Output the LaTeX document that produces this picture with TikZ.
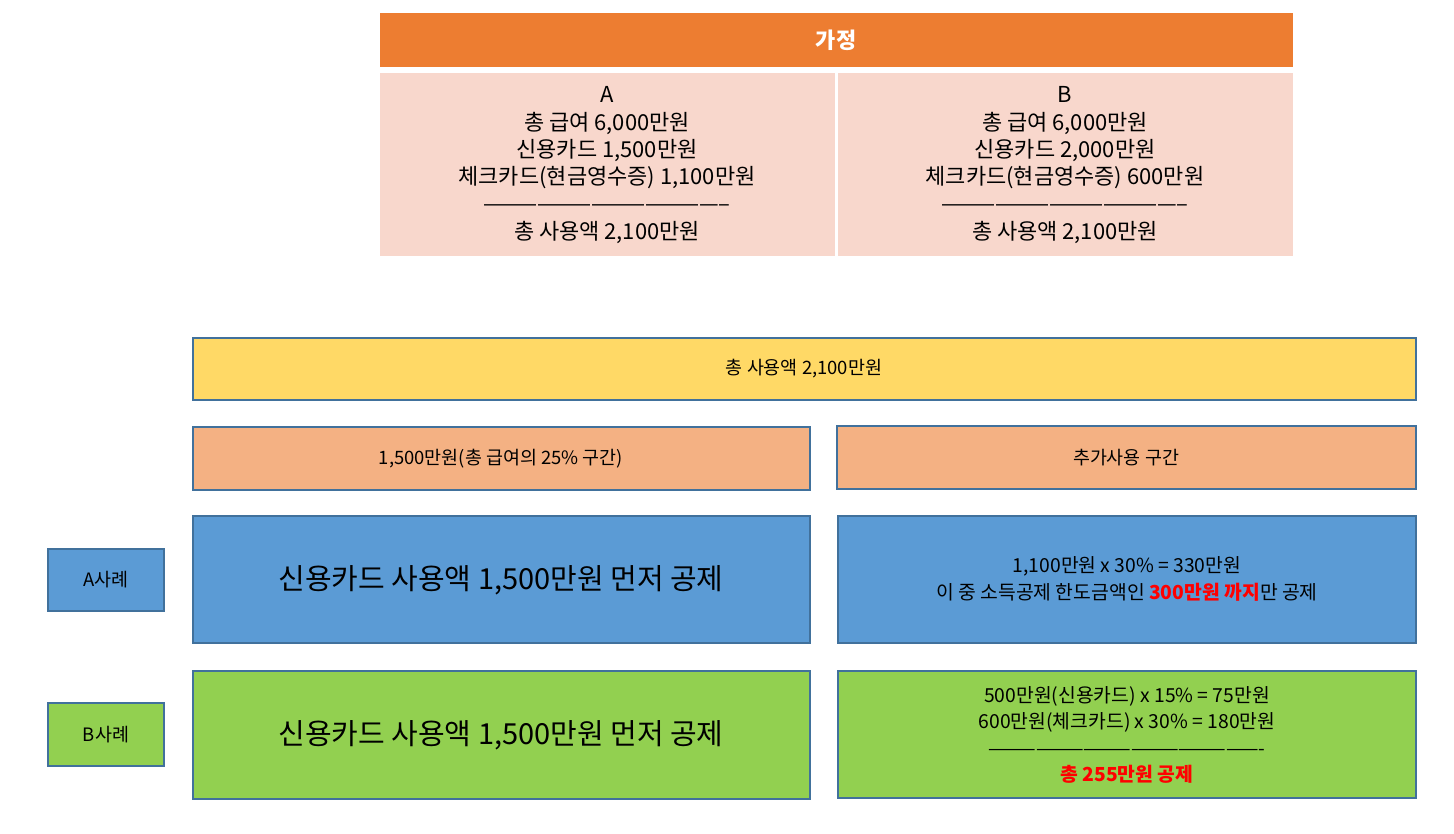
\documentclass[tikz,border=0pt]{standalone}
\usepackage{fontspec}
\setmainfont{Noto Sans CJK KR}
\begin{document}
\begin{tikzpicture}[x=0.02cm,y=-0.02cm,
 bx/.style={draw=none,inner sep=0},
 ob/.style={draw=black!30!blue!40!gray,line width=0.8pt,color=black,fill=#1},
 t/.style={align=center,font=\fontsize{12.5}{15.5}\selectfont}]
\useasboundingbox (0,0) rectangle (1454,833);
\definecolor{hdr}{HTML}{ED7D31}\definecolor{pnk}{HTML}{F8D7CC}
\definecolor{yel}{HTML}{FFD966}\definecolor{org}{HTML}{F4B183}
\definecolor{blu}{HTML}{5B9BD5}\definecolor{grn}{HTML}{92D050}
\definecolor{bd}{HTML}{41719C}
\tikzset{ob/.style={draw=bd,line width=0.9pt,fill=#1}}
\fill[hdr] (380,13) rectangle (1293,67);
\node[text=white,font=\fontsize{12.5}{15}\selectfont\bfseries] (h) at (836,40) {가정};
\fill[pnk] (380,73) rectangle (835,256);
\fill[pnk] (838,73) rectangle (1293,256);
\node[t] (pa) at (607,165) {A\\총 급여 6,000만원\\신용카드 1,500만원\\체크카드(현금영수증) 1,100만원\\-----------------------------------------\\총 사용액 2,100만원};
\node[t] (pb) at (1065,165) {B\\총 급여 6,000만원\\신용카드 2,000만원\\체크카드(현금영수증) 600만원\\-----------------------------------------\\총 사용액 2,100만원};
\draw[ob=yel] (193,338) rectangle (1416,400);
\node[font=\fontsize{10.5}{13}\selectfont] (y) at (804,369) {총 사용액 2,100만원};
\draw[ob=org] (193,427) rectangle (810,490);
\node[font=\fontsize{10.5}{13}\selectfont] (o1) at (501,459) {1,500만원(총 급여의 25\% 구간)};
\draw[ob=org] (837,426) rectangle (1416,489);
\node[font=\fontsize{10.5}{13}\selectfont] (o2) at (1126,458) {추가사용 구간};
\draw[ob=blu] (193,516) rectangle (810,643);
\node[font=\fontsize{16.5}{20}\selectfont] (b1) at (501,580) {신용카드 사용액 1,500만원 먼저 공제};
\draw[ob=blu] (838,516) rectangle (1416,643);
\node[align=center,font=\fontsize{11}{15}\selectfont] (b2) at (1127,579) {1,100만원 x 30\% = 330만원\\이 중 소득공제 한도금액인 {\color{red}\bfseries 300만원 까지}만 공제};
\draw[ob=grn] (193,671) rectangle (810,799);
\node[font=\fontsize{16.5}{20}\selectfont] (g1) at (501,735) {신용카드 사용액 1,500만원 먼저 공제};
\draw[ob=grn] (838,671) rectangle (1416,798);
\node[align=center,font=\fontsize{11}{15}\selectfont] (g2) at (1127,735) {500만원(신용카드) x 15\% = 75만원\\600만원(체크카드) x 30\% = 180만원\\----------------------------------------------------\\{\color{red}\bfseries 총 255만원 공제}};
\draw[ob=blu] (48,549) rectangle (164,611);
\node[font=\fontsize{10.5}{13}\selectfont] (la) at (106,580) {A사례};
\draw[ob=grn] (48,703) rectangle (164,766);
\node[font=\fontsize{10.5}{13}\selectfont] (lb) at (106,735) {B사례};
\end{tikzpicture}
\end{document}
